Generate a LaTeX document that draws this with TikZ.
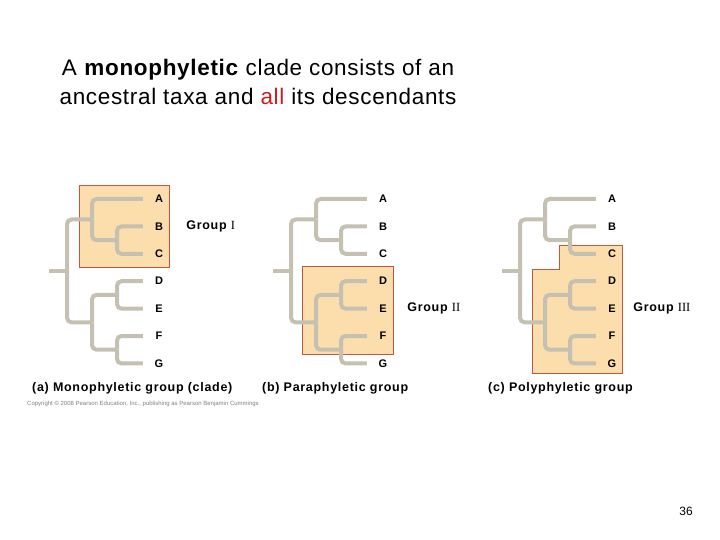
\documentclass[tikz,border=0pt]{standalone}
\usepackage{fontspec}
\setmainfont{Liberation Sans}
\newfontfamily\numeralfont{Liberation Serif}
\newfontfamily\spacedfont{Liberation Sans}[LetterSpace=5.6]
\newfontfamily\titlefont{Liberation Sans}[LetterSpace=3]
\usetikzlibrary{positioning}
\definecolor{branchgray}{RGB}{196,193,178}
\definecolor{cladefill}{RGB}{252,221,172}
\definecolor{cladeline}{RGB}{200,85,65}
\definecolor{titlered}{RGB}{205,30,30}

\newcommand{\phylotree}[2]{%
  \begin{scope}[xshift=#2pt]
    \coordinate (#1s) at (-18,270.9);
    \coordinate (#1r) at (0,270.9);
    \coordinate (#1abc) at (25,219.5);
    \coordinate (#1bc) at (50,240.1);
    \coordinate (#1defg) at (25,322.3);
    \coordinate (#1de) at (50,294.9);
    \coordinate (#1fg) at (50,349.7);
    \foreach \t [count=\i from 0] in {A,B,C,D,E,F,G}
      \node[leaf] (#1\t) at (92,{199+27.4*\i}) {\t};
    \draw[branch] (#1s) -- (#1r);
    \foreach \p/\c in {r/abc,r/defg,abc/A.west,abc/bc,bc/B.west,bc/C.west,
                       defg/de,defg/fg,de/D.west,de/E.west,fg/F.west,fg/G.west}
      \draw[branch] (#1\p) |- (#1\c);
  \end{scope}}

\begin{document}
\begin{tikzpicture}[x=1pt, y=-1pt,
    branch/.style = {draw=branchgray, line width=4pt, rounded corners=4.5pt},
    leaf/.style = {font=\spacedfont\bfseries\fontsize{11}{13}\selectfont, inner sep=0pt, minimum width=32pt},
    clade/.style = {fill=cladefill, draw=cladeline, line width=0.9pt},
    grouplabel/.style = {font=\spacedfont\bfseries\fontsize{12.5}{14}\selectfont, inner sep=0pt, anchor=west},
    caption/.style = {font=\spacedfont\bfseries\fontsize{12.5}{14}\selectfont, inner sep=0pt, anchor=west}]
  \useasboundingbox (0,0) rectangle (720,540);

  \node[align=center, font=\titlefont\fontsize{22.5}{29}\selectfont] (title) at (258,81.5)
    {A \textbf{monophyletic} clade consists of an\\ancestral taxa and \textcolor{titlered}{all} its descendants};

  \draw[clade] (79,185) rectangle (169,267);
  \draw[clade] (302,266) rectangle (393,354);
  \draw[clade] (622,245) -- (622,373) -- (532,373) -- (532,269) -- (559,269) -- (559,245) -- cycle;

  \phylotree{a}{67}
  \phylotree{b}{291}
  \phylotree{c}{520}

  \node[grouplabel, right=11pt of aB] (groupI) {Group {\mdseries\numeralfont I}};
  \node[grouplabel, right=8pt of bE] (groupII) {Group {\mdseries\numeralfont II}};
  \node[grouplabel, right=5pt of cE] (groupIII) {Group {\mdseries\numeralfont III}};

  \node[caption] (capa) at (32,388) {(a) Monophyletic group (clade)};
  \node[caption] (capb) at (262,388) {(b) Paraphyletic group};
  \node[caption] (capc) at (488,388) {(c) Polyphyletic group};
  \node[anchor=west, inner sep=0pt, text=gray, font=\fontsize{6}{7}\selectfont] (copyright) at (27,404)
    {Copyright \textcopyright{} 2008 Pearson Education, Inc., publishing as Pearson Benjamin Cummings};

  \node[font=\fontsize{12}{14}\selectfont] (pagenum) at (686,511) {36};
\end{tikzpicture}
\end{document}
